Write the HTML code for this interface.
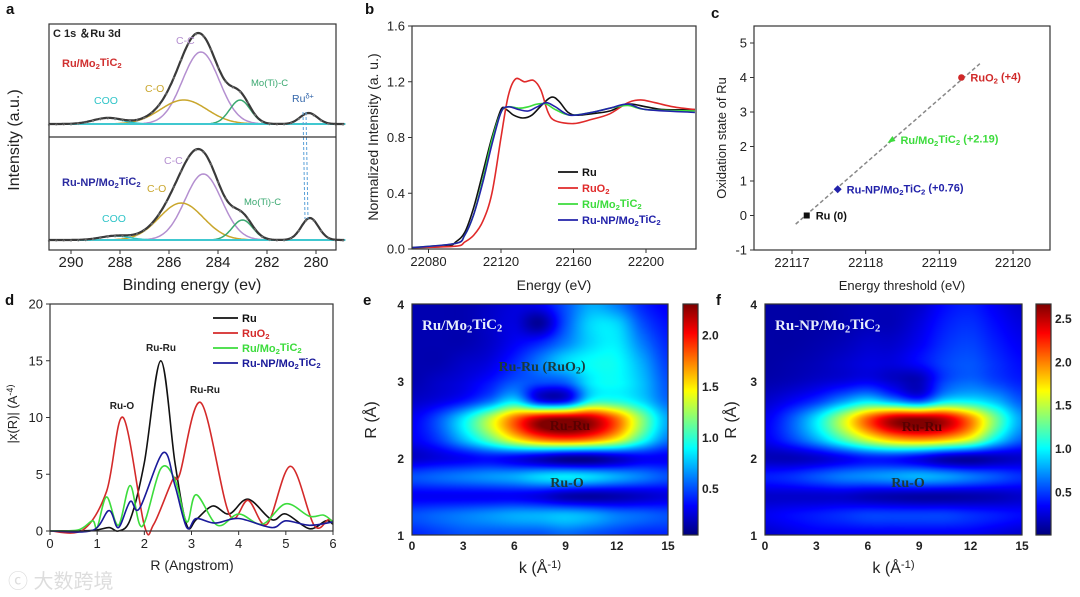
<!DOCTYPE html>
<html><head><meta charset="utf-8">
<style>
html,body{margin:0;padding:0;background:#fff;width:1080px;height:597px;overflow:hidden;font-family:"Liberation Sans",Arial,sans-serif;}
#wrap{position:relative;width:1080px;height:597px;}
canvas{position:absolute;}
#svg{position:absolute;left:0;top:0;}
</style></head>
<body>
<div id="wrap">
<canvas id="hmE" width="256" height="231" style="left:412px;top:304px"></canvas>
<canvas id="cbE" width="15" height="231" style="left:683px;top:304px"></canvas>
<canvas id="hmF" width="257" height="231" style="left:765px;top:304px"></canvas>
<canvas id="cbF" width="15" height="231" style="left:1036px;top:304px"></canvas>
<svg id="svg" width="1080" height="597" xmlns="http://www.w3.org/2000/svg" font-family="Liberation Sans, Arial, sans-serif"></svg>
</div>
<script>
// ---------- DATA ----------
const aTopNames=["C-C","C-O","Mo(Ti)-C","COO","Ru"];
const aTopCenters=[284.7,285.4,283.1,288.5,280.3];
const aTopHeights=[72,24,24,6,11];
const aTopSigmas=[0.75,0.95,0.42,0.6,0.35];
const aBotCenters=[284.6,285.5,283.0,288.2,280.25];
const aBotHeights=[66,37,20,4,22];
const aBotSigmas=[0.75,0.9,0.42,0.6,0.35];
const aTicks=[290,288,286,284,282,280];
const bRuE=[22071,22090,22095,22100,22105,22110,22115,22120,22123,22127,22132,22137,22143,22148,22152,22157,22162,22170,22180,22190,22200,22210,22227];
const bRuV=[0.01,0.02,0.05,0.12,0.3,0.55,0.8,1.0,1.0,0.96,0.94,0.96,1.04,1.09,1.06,0.98,0.96,0.97,0.99,1.04,1.02,1.0,1.0];
const bRuO2E=[22071,22095,22100,22105,22110,22115,22120,22124,22128,22133,22138,22142,22146,22150,22160,22170,22180,22190,22197,22205,22215,22227];
const bRuO2V=[0.01,0.02,0.05,0.1,0.2,0.4,0.8,1.1,1.22,1.2,1.21,1.14,0.98,0.92,0.9,0.93,0.97,1.05,1.07,1.05,1.02,1.0];
const bGrE=[22071,22095,22100,22105,22110,22115,22120,22124,22130,22135,22140,22145,22150,22158,22170,22180,22190,22200,22227];
const bGrV=[0.01,0.04,0.1,0.25,0.5,0.78,0.98,1.02,1.01,1.02,1.04,1.04,1.0,0.96,0.98,1.01,1.03,1.0,0.99];
const bBlE=[22071,22095,22100,22105,22110,22115,22120,22124,22130,22135,22140,22145,22150,22158,22170,22180,22190,22200,22227];
const bBlV=[0.01,0.04,0.1,0.25,0.48,0.75,0.98,1.02,1.0,0.99,1.02,1.05,1.02,0.96,0.98,1.01,1.04,1.0,0.98];
const bXTicks=[22080,22120,22160,22200];
const bYTicks=[0.0,0.4,0.8,1.2,1.6];
const cNames=["Ru (0)","Ru-NP/Mo2TiC2 (+0.76)","Ru/Mo2TiC2 (+2.19)","RuO2 (+4)"];
const cEnergy=[22117.2,22117.62,22118.35,22119.3];
const cOx=[0,0.76,2.19,4];
const cXTicks=[22117,22118,22119,22120];
const cYTicks=[-1,0,1,2,3,4,5];
const dRuR=[0,0.9,1.25,1.45,1.7,2.0,2.35,2.65,2.9,3.1,3.45,3.8,4.2,4.7,5.0,5.5,5.85,6];
const dRuV=[0,0.05,0.3,0,1,6,15,6,0.5,1,2.2,1.5,2.8,1.0,1.5,0.2,0.9,0.6];
const dRuO2R=[0,0.7,1.2,1.55,2.0,2.2,2.6,2.75,3.2,3.8,4.2,4.6,5.1,5.6,5.9,6];
const dRuO2V=[0,0.1,3.5,10,0.5,0.6,4.5,5,11.3,1.5,2.7,0.6,5.7,0.5,1,0.8];
const dGrR=[0,0.6,0.9,1.0,1.2,1.45,1.7,1.95,2.35,2.65,2.9,3.1,3.55,4.0,4.5,5.0,5.5,5.8,6];
const dGrV=[0,0.1,0.9,0.3,3,0.5,4,0.4,5.5,4.5,0.8,3.2,0.5,1.5,0.6,2.4,1.3,1.4,0.8];
const dBlR=[0,0.9,1.25,1.45,1.7,1.9,2.4,2.65,2.9,3.1,3.5,4.0,4.7,5.0,5.5,6];
const dBlV=[0,0.05,1.8,0.3,2.6,2,6.9,4,0.3,1.1,0.7,1.1,0.3,0.9,0.5,0.8];
const dXTicks=[0,1,2,3,4,5,6];
const dYTicks=[0,5,10,15,20];
const hmK=[0,1.5,3,4.5,6,7.5,9,10.5,12,13.5,15];
const hmR=[4,3.75,3.5,3.25,3,2.75,2.5,2.25,2,1.75,1.5,1.25,1];
const eVals=[
[0.15,0.15,0.15,0.2,0.25,0.3,0.5,0.7,0.6,0.4,0.3],
[0.15,0.15,0.15,0.2,0.25,0.1,0.5,0.8,0.8,0.5,0.35],
[0.15,0.15,0.15,0.2,0.3,0.4,0.6,0.8,0.85,0.6,0.4],
[0.15,0.15,0.2,0.25,0.4,0.6,0.8,0.9,0.9,0.7,0.45],
[0.15,0.2,0.25,0.35,0.5,0.5,0.55,0.85,0.9,0.75,0.5],
[0.2,0.25,0.35,0.55,0.8,0.3,0.3,0.9,0.95,0.8,0.55],
[0.3,0.5,0.85,1.3,1.8,2.2,2.3,2.2,1.8,1.2,0.7],
[0.3,0.45,0.75,1.1,1.5,1.8,1.9,1.8,1.5,1.0,0.6],
[0.2,0.25,0.3,0.35,0.3,0.2,0.1,0.1,0.2,0.3,0.3],
[0.5,0.55,0.6,0.65,0.7,0.8,0.85,0.8,0.7,0.6,0.5],
[0.3,0.3,0.3,0.3,0.3,0.25,0.15,0.12,0.15,0.2,0.25],
[0.5,0.55,0.6,0.65,0.7,0.72,0.75,0.7,0.6,0.55,0.5],
[0.4,0.45,0.5,0.5,0.5,0.5,0.55,0.5,0.45,0.4,0.4]];
const fVals=[
[0.1,0.1,0.1,0.12,0.15,0.15,0.2,0.35,0.4,0.3,0.2],
[0.1,0.1,0.1,0.12,0.15,0.15,0.25,0.4,0.45,0.35,0.25],
[0.1,0.1,0.12,0.15,0.2,0.2,0.3,0.45,0.5,0.4,0.3],
[0.1,0.12,0.15,0.2,0.25,0.25,0.35,0.5,0.55,0.45,0.35],
[0.12,0.15,0.2,0.25,0.3,0.2,0.15,0.5,0.6,0.5,0.4],
[0.2,0.3,0.45,0.7,0.9,0.7,0.5,0.9,0.95,0.8,0.55],
[0.3,0.55,0.95,1.5,2.1,2.55,2.65,2.5,2.0,1.3,0.75],
[0.3,0.5,0.8,1.2,1.6,1.9,2.0,1.9,1.6,1.0,0.6],
[0.15,0.15,0.2,0.3,0.4,0.4,0.3,0.15,0.1,0.15,0.2],
[0.4,0.45,0.55,0.65,0.7,0.75,0.8,0.75,0.65,0.55,0.45],
[0.2,0.2,0.2,0.2,0.15,0.12,0.1,0.1,0.12,0.15,0.2],
[0.3,0.35,0.4,0.45,0.5,0.5,0.5,0.5,0.45,0.4,0.35],
[0.2,0.25,0.3,0.3,0.3,0.3,0.3,0.3,0.3,0.25,0.2]];
const eCbTicks=[0.5,1.0,1.5,2.0];
const fCbTicks=[0.5,1.0,1.5,2.0,2.5];
const hmXTicks=[0,3,6,9,12,15];
const hmYTicks=[1,2,3,4];

// ---------- HELPERS ----------
const NS="http://www.w3.org/2000/svg";
const svg=document.getElementById('svg');
function el(tag,attrs,parent){const e=document.createElementNS(NS,tag);for(const k in attrs)e.setAttribute(k,attrs[k]);(parent||svg).appendChild(e);return e;}
function lin(d0,d1,r0,r1){return v=>r0+(v-d0)*(r1-r0)/(d1-d0);}
function smooth(pts){let d="M"+pts[0][0].toFixed(1)+","+pts[0][1].toFixed(1);
 for(let i=0;i<pts.length-1;i++){const p0=pts[i-1]||pts[i],p1=pts[i],p2=pts[i+1],p3=pts[i+2]||p2;
  const c1=[p1[0]+(p2[0]-p0[0])/6,p1[1]+(p2[1]-p0[1])/6],c2=[p2[0]-(p3[0]-p1[0])/6,p2[1]-(p3[1]-p1[1])/6];
  d+="C"+c1[0].toFixed(1)+","+c1[1].toFixed(1)+" "+c2[0].toFixed(1)+","+c2[1].toFixed(1)+" "+p2[0].toFixed(1)+","+p2[1].toFixed(1);}
 return d;}
function text(x,y,str,attrs,name){const t=el('text',Object.assign({x:x,y:y,'font-size':13,fill:'#222'},attrs||{}));
 
 
 const parts=str.split(/(_[0-9δ+]+|\^[^ ]+)/);
 parts.forEach(p=>{if(!p)return;const ts=document.createElementNS(NS,'tspan');
  if(p[0]==='_'){ts.textContent=p.slice(1);ts.setAttribute('font-size','0.7em');ts.setAttribute('dy','0.25em');t.appendChild(ts);
   const r=document.createElementNS(NS,'tspan');r.setAttribute('dy','-0.25em');r.textContent='\u200b';t.appendChild(r);}
  else if(p[0]==='^'){ts.textContent=p.slice(1);ts.setAttribute('font-size','0.7em');ts.setAttribute('dy','-0.45em');t.appendChild(ts);
   const r=document.createElementNS(NS,'tspan');r.setAttribute('dy','0.45em');r.textContent='\u200b';t.appendChild(r);}
  else{ts.textContent=p;t.appendChild(ts);}});
 return t;}
function box(x0,y0,x1,y1,name){const r=el('rect',{x:x0,y:y0,width:x1-x0,height:y1-y0,fill:'none',stroke:'#333','stroke-width':1.2});
 
 }
function xTicks(ticks,sx,y,len,fs,name){ticks.forEach(v=>{const x=sx(v);
 const l=el('line',{x1:x,y1:y,x2:x,y2:y+len,stroke:'#333','stroke-width':1});
 
 
 text(x,y+len+13,String(v),{'text-anchor':'middle','font-size':fs||13},name+'-tick-label');});}
function yTicks(ticks,sy,x,len,fmt,fs,name){ticks.forEach(v=>{const y=sy(v);
 const l=el('line',{x1:x,y1:y,x2:x-len,y2:y,stroke:'#333','stroke-width':1});
 
 
 text(x-len-3,y+4.5,fmt?fmt(v):String(v),{'text-anchor':'end','font-size':fs||13},name+'-tick-label');});}
function panelLetter(x,y,s){text(x,y,s,{'font-size':15,'font-weight':'bold',fill:'#111'},'panel-label-'+s);}
function path(d,color,w,name,extra){const p=el('path',Object.assign({d:d,fill:'none',stroke:color,'stroke-width':w||1.6},extra||{}));
 
 return p;}

// ---------- PANEL A ----------
panelLetter(6,14,'a');
{const sx=lin(290,280,71,316);
 const comps=["#b48fd0","#c9a62c","#3aa870","#2fc4c8","#3366aa"];
 function sub(centers,heights,sigmas,base,name){
  centers.forEach((c,i)=>{const pts=[];for(let e=290.9;e>=278.8;e-=0.05){pts.push([sx(e),base-heights[i]*Math.exp(-0.5*((e-c)/sigmas[i])**2)]);}
   path("M"+pts.map(p=>p[0].toFixed(1)+","+p[1].toFixed(1)).join("L"),comps[i],1.5,name+'-'+aTopNames[i].toLowerCase().replace(/[^a-z]/g,'')+'-peak');});
  path("M"+sx(290.9)+","+base+"L"+sx(278.8)+","+base,"#40c8d0",2,name+'-baseline');
  const env=[];for(let e=290.9;e>=278.8;e-=0.05){let s=0;centers.forEach((c,i)=>s+=heights[i]*Math.exp(-0.5*((e-c)/sigmas[i])**2));env.push([sx(e),base-s]);}
  path("M"+env.map(p=>p[0].toFixed(1)+","+p[1].toFixed(1)).join("L"),"#3a3a3a",2.2,name+'-envelope');
  env.forEach((p,i)=>{if(i%6===0){const c=el('circle',{cx:p[0],cy:p[1]+0.8,r:0.9,fill:'none',stroke:'#999','stroke-width':0.5});
   
   }});
 }
 sub(aTopCenters,aTopHeights,aTopSigmas,124,'xps-top');
 sub(aBotCenters,aBotHeights,aBotSigmas,240,'xps-bottom');
 const dl=el('path',{d:"M303,112L305,219M306,112L308,219",stroke:'#5aa0d8','stroke-width':1,'stroke-dasharray':'3,2',fill:'none'});
 
 
 box(49,24,336,250,'xps-frame');
 const dv=el('line',{x1:49,y1:137,x2:336,y2:137,stroke:'#333','stroke-width':1.2});
 
 
 xTicks(aTicks,sx,250,4,15,'xps-x');
 text(192,290,"Binding energy (ev)",{'text-anchor':'middle','font-size':16},'xps-x-title');
 text(0,0,"Intensity (a.u.)",{'text-anchor':'middle','font-size':16,transform:'translate(19,140) rotate(-90)'},'xps-y-title');
 text(53,37,"C 1s ＆Ru 3d",{'font-size':11,'font-weight':'bold'},'xps-title');
 text(62,67,"Ru/Mo_2TiC_2",{'font-size':11,'font-weight':'bold',fill:'#d03030'},'xps-top-sample');
 text(62,186,"Ru-NP/Mo_2TiC_2",{'font-size':11,'font-weight':'bold',fill:'#2a2aa0'},'xps-bottom-sample');
 const L=[[176,44,"C-C","#b48fd0"],[145,92,"C-O","#c9a62c"],[94,104,"COO","#2fc4c8"],[251,86,"Mo(Ti)-C","#3aa870"],[292,102,"Ru^δ+","#3366aa"],
  [164,164,"C-C","#b48fd0"],[147,192,"C-O","#c9a62c"],[102,222,"COO","#2fc4c8"],[244,205,"Mo(Ti)-C","#3aa870"]];
 L.forEach(l=>text(l[0],l[1],l[2],{'font-size':l[2]==="Mo(Ti)-C"?9.5:10.5,fill:l[3]},'xps-peak-label'));
}

// ---------- PANEL B ----------
panelLetter(365,14,'b');
{const sx=lin(22120,22200,501,646),sy=lin(0,1.6,249,26);
 [[bRuE,bRuV,"#111",'ru'],[bRuO2E,bRuO2V,"#e02a2a",'ruo2'],[bGrE,bGrV,"#3cdc3c",'ru-mo2tic2'],[bBlE,bBlV,"#2222aa",'ru-np-mo2tic2']].forEach(s=>{
  path(smooth(s[0].map((e,i)=>[sx(e),sy(s[1][i])])),s[2],1.6,'xanes-line-'+s[3]);});
 box(412,26,696,249,'xanes-frame');
 xTicks(bXTicks,sx,249,4,13,'xanes-x');
 yTicks(bYTicks,sy,412,4,v=>v.toFixed(1),13,'xanes-y');
 text(554,290,"Energy (eV)",{'text-anchor':'middle','font-size':14},'xanes-x-title');
 text(0,0,"Normalized Intensity (a. u.)",{'text-anchor':'middle','font-size':14,transform:'translate(378,137) rotate(-90)'},'xanes-y-title');
 const lg=[["Ru","#111"],["RuO_2","#e02a2a"],["Ru/Mo_2TiC_2","#3cdc3c"],["Ru-NP/Mo_2TiC_2","#2222aa"]];
 lg.forEach((l,i)=>{const y=172+i*16;const ln=el('line',{x1:558,y1:y,x2:578,y2:y,stroke:l[1],'stroke-width':1.8});
  
  
  text(582,y+4,l[0],{'font-size':11,'font-weight':'bold',fill:l[1]},'xanes-legend-entry');});
}

// ---------- PANEL C ----------
panelLetter(711,18,'c');
{const sx=lin(22117,22120,792,1013),sy=lin(-1,5,250,43);
 const dl=el('line',{x1:sx(22117.05),y1:sy(-0.25),x2:sx(22119.55),y2:sy(4.4),stroke:'#888','stroke-width':1.5,'stroke-dasharray':'4,2.5'});
 
 
 const cols=["#111","#2222aa","#3cdc3c","#d02828"];
 cEnergy.forEach((e,i)=>{const x=sx(e),y=sy(cOx[i]);let m;
  if(i===0)m=el('rect',{x:x-3,y:y-3,width:6,height:6,fill:cols[i]});
  else if(i===1)m=el('path',{d:`M${x},${y-4}L${x+4},${y}L${x},${y+4}L${x-4},${y}Z`,fill:cols[i]});
  else if(i===2)m=el('path',{d:`M${x-4},${y+3}L${x+4},${y+1}L${x+1},${y-4}Z`,fill:cols[i]});
  else m=el('circle',{cx:x,cy:y,r:3.3,fill:cols[i]});
  
  
  const lab=cNames[i].replace('Mo2TiC2','Mo_2TiC_2').replace('RuO2','RuO_2');
  text(x+9,y+4,lab,{'font-size':11,'font-weight':'bold',fill:cols[i]},'oxidation-point-label');});
 box(754,26,1050,250,'oxidation-frame');
 xTicks(cXTicks,sx,250,4,13,'oxidation-x');
 yTicks(cYTicks,sy,754,4,null,13,'oxidation-y');
 text(902,290,"Energy threshold (eV)",{'text-anchor':'middle','font-size':13},'oxidation-x-title');
 text(0,0,"Oxidation state of Ru",{'text-anchor':'middle','font-size':13,transform:'translate(726,138) rotate(-90)'},'oxidation-y-title');
}

// ---------- PANEL D ----------
panelLetter(5,305,'d');
{const sx=lin(0,6,50,333),sy=lin(0,20,531,304);
 [[dRuR,dRuV,"#111",'ru'],[dRuO2R,dRuO2V,"#d42a2a",'ruo2'],[dGrR,dGrV,"#3cdc3c",'ru-mo2tic2'],[dBlR,dBlV,"#1a1a9a",'ru-np-mo2tic2']].forEach(s=>{
  path(smooth(s[0].map((r,i)=>[sx(r),sy(Math.max(0,s[1][i]))])),s[2],1.6,'ft-line-'+s[3]);});
 box(50,304,333,531,'ft-frame');
 xTicks(dXTicks,sx,531,4,13,'ft-x');
 yTicks(dYTicks,sy,50,4,null,13,'ft-y');
 text(192,570,"R (Angstrom)",{'text-anchor':'middle','font-size':14},'ft-x-title');
 text(0,0,"|x(R)| (A^-4)",{'text-anchor':'middle','font-size':13,transform:'translate(17,414) rotate(-90)'},'ft-y-title');
 [[122,409,"Ru-O"],[161,351,"Ru-Ru"],[205,393,"Ru-Ru"]].forEach(l=>text(l[0],l[1],l[2],{'font-size':10,'font-weight':'bold','text-anchor':'middle'},'ft-peak-label'));
 const lg=[["Ru","#111"],["RuO_2","#d42a2a"],["Ru/Mo_2TiC_2","#3cdc3c"],["Ru-NP/Mo_2TiC_2","#1a1a9a"]];
 lg.forEach((l,i)=>{const y=318+i*15;const ln=el('line',{x1:213,y1:y,x2:238,y2:y,stroke:l[1],'stroke-width':1.8});
  
  
  text(242,y+4,l[0],{'font-size':11,'font-weight':'bold',fill:l[1]},'ft-legend-entry');});
 text(8,588,"\u24d2 大数跨境",{'font-size':20,fill:'#ddd','font-family':'Liberation Sans, Noto Sans CJK SC, sans-serif'},'watermark');
}

// ---------- PANELS E, F ----------
function jet(t){t=Math.max(0,Math.min(1,t));const c=v=>Math.round(255*Math.max(0,Math.min(1,v)));
 return [c(1.5-Math.abs(4*t-3)),c(1.5-Math.abs(4*t-2)),c(1.5-Math.abs(4*t-1))];}
function cub(p0,p1,p2,p3,t){return p1+0.5*t*(p2-p0+t*(2*p0-5*p1+4*p2-p3+t*(3*(p1-p2)+p3-p0)));}
function heat(id,vals,vmin,vmax){const cv=document.getElementById(id),ctx=cv.getContext('2d'),W=cv.width,H=cv.height;
 const img=ctx.createImageData(W,H);const nk=hmK.length,nr=hmR.length;
 const g=(r,k)=>vals[Math.max(0,Math.min(nr-1,r))][Math.max(0,Math.min(nk-1,k))];
 for(let py=0;py<H;py++){const fr=(nr-1)*py/(H-1);const r0=Math.min(nr-2,Math.floor(fr));const tr=fr-r0;
  for(let px=0;px<W;px++){const fk=(nk-1)*px/(W-1);const k0=Math.min(nk-2,Math.floor(fk));const tk=fk-k0;
   const rows=[-1,0,1,2].map(d=>cub(g(r0+d,k0-1),g(r0+d,k0),g(r0+d,k0+1),g(r0+d,k0+2),tk));
   const v=cub(rows[0],rows[1],rows[2],rows[3],tr);
   const c=jet((v-vmin)/(vmax-vmin));const o=(py*W+px)*4;img.data[o]=c[0];img.data[o+1]=c[1];img.data[o+2]=c[2];img.data[o+3]=255;}}
 ctx.putImageData(img,0,0);}
function cbar(id){const cv=document.getElementById(id),ctx=cv.getContext('2d');
 for(let y=0;y<cv.height;y++){const c=jet(1-y/(cv.height-1));ctx.fillStyle=`rgb(${c[0]},${c[1]},${c[2]})`;ctx.fillRect(0,y,cv.width,1);}}
heat('hmE',eVals,0.04,2.3);cbar('cbE');
heat('hmF',fVals,0.0,2.66);cbar('cbF');
function wavelet(x0,x1,cbx,vmin,vmax,cbTicks,letter,title,name,ytx){
 const sx=lin(0,15,x0,x1),sy=lin(1,4,535,304);
 panelLetter(x0-49,305,letter);
 box(x0,304,x1,535,name+'-frame');
 box(cbx,304,cbx+15,535,name+'-colorbar-frame');
 hmXTicks.forEach(v=>text(sx(v),550,String(v),{'text-anchor':'middle','font-size':12,'font-weight':'bold'},name+'-x-tick-label'));
 hmYTicks.forEach(v=>text(x0-8,sy(v)+5,String(v),{'text-anchor':'end','font-size':12,'font-weight':'bold'},name+'-y-tick-label'));
 const cy=lin(vmin,vmax,535,304);
 cbTicks.forEach(v=>text(cbx+19,cy(v)+5,v.toFixed(1),{'font-size':12,'font-weight':'bold'},name+'-colorbar-tick'));
 text((x0+x1)/2,573,"k (Å^-1)",{'text-anchor':'middle','font-size':16},name+'-x-title');
 text(0,0,"R (Å)",{'text-anchor':'middle','font-size':16,transform:`translate(${ytx},420) rotate(-90)`},name+'-y-title');
 text(x0+10,330,title,{'font-size':15,'font-weight':'bold',fill:'#e8eefc','font-family':'Liberation Serif, serif'},name+'-sample-title');
}
wavelet(412,668,683,0.04,2.3,eCbTicks,'e',"Ru/Mo_2TiC_2",'wt-e',376);
wavelet(765,1022,1036,0.0,2.66,fCbTicks,'f',"Ru-NP/Mo_2TiC_2",'wt-f',736);
const ser={'font-size':14,'font-weight':'bold',fill:'#1a3a3a','font-family':'Liberation Serif, serif','text-anchor':'middle'};
text(542,371,"Ru-Ru (RuO_2)",ser,'wt-e-peak-label');
text(570,430,"Ru-Ru",Object.assign({},ser,{fill:'#5a0000'}),'wt-e-peak-label');
text(567,487,"Ru-O",ser,'wt-e-peak-label');
text(922,431,"Ru-Ru",Object.assign({},ser,{fill:'#5a0000'}),'wt-f-peak-label');
text(908,487,"Ru-O",ser,'wt-f-peak-label');
</script>
</body></html>
